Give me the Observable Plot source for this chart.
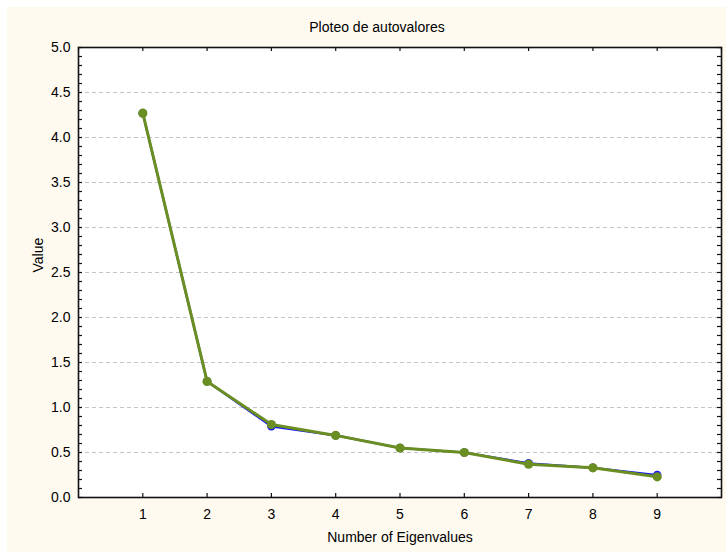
<!DOCTYPE html>
<html><head><meta charset="utf-8">
<script src="https://cdn.jsdelivr.net/npm/d3@7"></script>
<script src="https://cdn.jsdelivr.net/npm/@observablehq/plot@0.6"></script>
<style>
html,body{margin:0;padding:0;background:#ffffff;}
#chart{position:absolute;left:7px;top:7px;width:719px;height:545px;background:#fefaf0;}
#chart svg{display:block;background:transparent;}
</style></head><body><div id="chart"></div>
<script>
const titleText = "Ploteo de autovalores";
const xLabel = "Number of Eigenvalues";
const yLabel = "Value";
const components = [1, 2, 3, 4, 5, 6, 7, 8, 9];
const blueValues = [4.27, 1.29, 0.79, 0.69, 0.55, 0.50, 0.38, 0.33, 0.25];
const greenValues = [4.27, 1.29, 0.81, 0.69, 0.55, 0.50, 0.37, 0.33, 0.23];
const xTickValues = [1, 2, 3, 4, 5, 6, 7, 8, 9];
const xTopTickValues = [0, 1, 2, 3, 4, 5, 6, 7, 8, 9, 10];
const yTickValues = [0, 0.5, 1, 1.5, 2, 2.5, 3, 3.5, 4, 4.5, 5];
const yGridValues = [0.5, 1, 1.5, 2, 2.5, 3, 3.5, 4, 4.5];
const yMinorTickValues = [0, 0.1, 0.2, 0.3, 0.4, 0.5, 0.6, 0.7, 0.8, 0.9, 1, 1.1, 1.2, 1.3, 1.4, 1.5, 1.6, 1.7, 1.8, 1.9, 2, 2.1, 2.2, 2.3, 2.4, 2.5, 2.6, 2.7, 2.8, 2.9, 3, 3.1, 3.2, 3.3, 3.4, 3.5, 3.6, 3.7, 3.8, 3.9, 4, 4.1, 4.2, 4.3, 4.4, 4.5, 4.6, 4.7, 4.8, 4.9, 5];

const blueData = components.map((c, i) => ({x: c, y: blueValues[i]}));
const greenData = components.map((c, i) => ({x: c, y: greenValues[i]}));

const W = 719, H = 545, mL = 71, mR = 5, mT = 40, mB = 55;
const innerW = W - mL - mR, innerH = H - mT - mB, tick = 4;
const font = "'Liberation Sans', Arial, sans-serif";

const chart = Plot.plot({
  width: W, height: H,
  marginLeft: mL, marginRight: mR, marginTop: mT, marginBottom: mB,
  style: {fontFamily: font, fontSize: "14px", color: "#000", background: "transparent"},
  x: {domain: [0, 10]},
  y: {domain: [0, 5]},
  marks: [
    Plot.frame({fill: "white", stroke: null}),
    Plot.ruleY(yGridValues, {stroke: "#c4c4c4", strokeDasharray: "4,3", strokeWidth: 1}),
    Plot.line(blueData, {x: "x", y: "y", stroke: "#1010ff", strokeWidth: 2.2}),
    Plot.dot(blueData, {x: "x", y: "y", r: 4.2, fill: "#1010ff", stroke: null}),
    Plot.line(greenData, {x: "x", y: "y", stroke: "#6b8e23", strokeWidth: 3}),
    Plot.dot(greenData, {x: "x", y: "y", r: 4.6, fill: "#6b8e23", stroke: null}),
    Plot.frame({stroke: "#111", strokeWidth: 1.6}),
    Plot.ruleY(yMinorTickValues, {insetRight: innerW - tick, stroke: "#111", strokeWidth: 1.2}),
    Plot.ruleY(yMinorTickValues, {insetLeft: innerW - tick, stroke: "#111", strokeWidth: 1.2}),
    Plot.ruleX(xTickValues, {insetTop: innerH - tick, stroke: "#111", strokeWidth: 1.2}),
    Plot.ruleX(xTopTickValues, {insetBottom: innerH - tick, stroke: "#111", strokeWidth: 1.2}),
    Plot.axisX({ticks: xTickValues, tickSize: 0, tickPadding: 12, label: null, fontSize: 14}),
    Plot.axisY({ticks: yTickValues, tickFormat: d3.format(".1f"), tickSize: 0, tickPadding: 8, label: null, fontSize: 14}),
    Plot.text([titleText], {text: d => d, frameAnchor: "top", dy: -20, dx: -23, fontSize: 14, lineAnchor: "middle"}),
    Plot.text([xLabel], {text: d => d, frameAnchor: "bottom", dy: 40, fontSize: 14, lineAnchor: "middle"}),
    Plot.text([yLabel], {text: d => d, frameAnchor: "left", dx: -40, rotate: -90, fontSize: 14, lineAnchor: "middle"})
  ]
});
document.getElementById("chart").appendChild(chart);
</script></body></html>
